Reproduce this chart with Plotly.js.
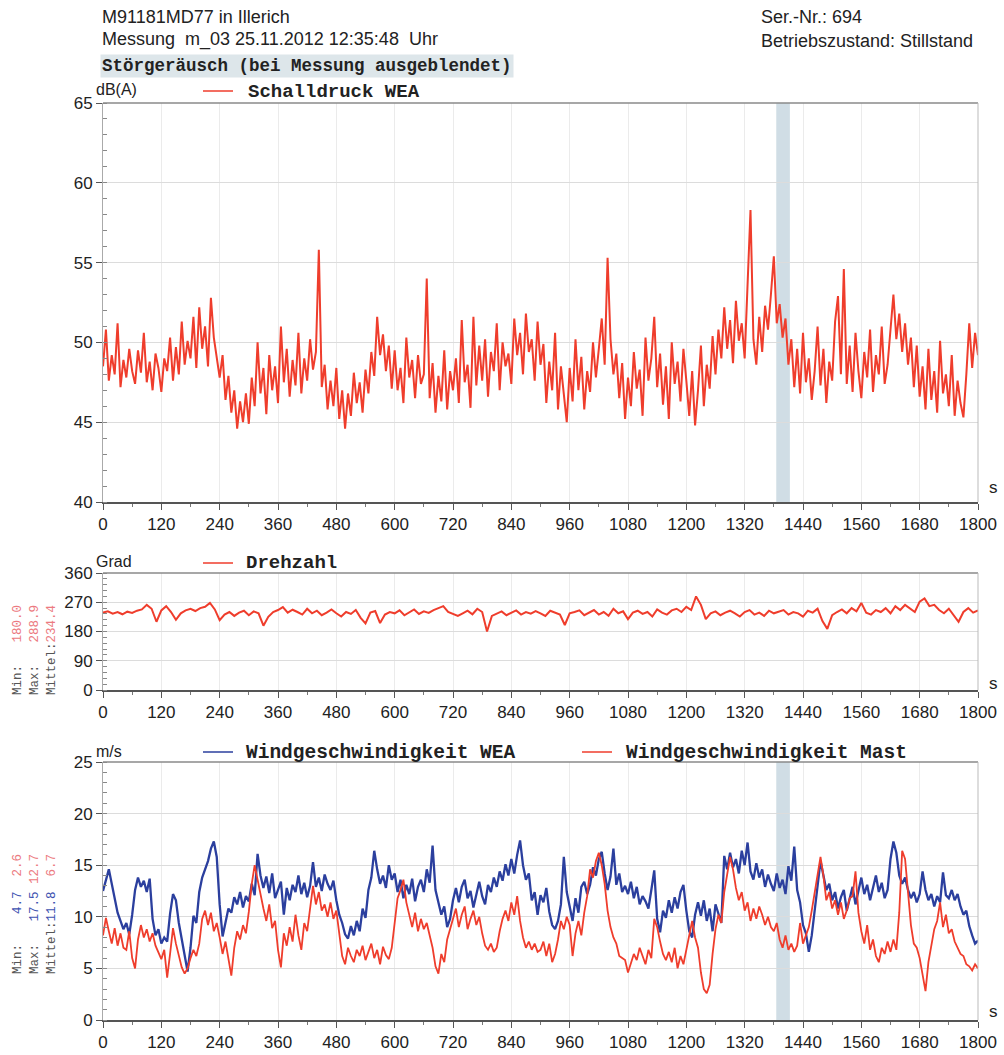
<!DOCTYPE html>
<html><head><meta charset="utf-8">
<script src="https://cdn.plot.ly/plotly-3.0.1.min.js"></script>
<style>html,body{margin:0;padding:0;background:#fff;}#chart{width:1004px;height:1055px;}</style>
</head><body><div id="chart"></div>
<script>
// ---------------- DATA ----------------
const xTicks = [0,120,240,360,480,600,720,840,960,1080,1200,1320,1440,1560,1680,1800];
const xTickLabels = xTicks.map(String);
const stepDb = 6;      // seconds between samples (Schalldruck)
const stepRpm = 10;    // seconds between samples (Drehzahl)
const stepWind = 6;    // seconds between samples (Wind)
const shadeStart = 1385, shadeEnd = 1413;

const schalldruckWEA = [
48.5,50.8,47.6,49.2,48.0,51.2,47.2,48.9,47.8,49.6,
48.2,47.4,49.5,48.1,50.6,47.5,48.8,47.0,49.3,48.4,
46.9,49.0,48.2,50.3,47.6,49.7,48.0,51.3,48.6,50.1,
49.0,51.6,48.4,52.2,49.6,51.0,48.5,52.8,50.3,49.0,
47.8,49.2,46.4,47.9,45.6,47.0,44.6,46.3,45.0,46.8,
44.9,47.8,46.0,50.0,46.8,48.4,45.5,49.2,47.0,48.5,
46.2,51.0,47.5,49.6,46.6,48.9,47.3,50.6,46.8,49.0,
47.6,50.2,48.3,49.4,55.8,47.2,48.6,45.8,47.6,46.0,
48.4,45.2,47.0,44.6,46.8,45.4,48.1,46.2,47.5,45.6,
48.3,46.8,49.4,47.9,51.6,49.2,50.5,48.2,49.8,47.1,
49.5,47.0,48.4,46.2,50.3,47.8,48.9,46.5,49.2,47.4,
48.0,54.0,46.5,48.7,45.6,47.9,46.3,49.5,45.8,48.2,
47.0,49.0,46.2,51.4,47.5,48.6,45.9,51.6,47.3,49.8,
47.6,50.2,46.6,49.4,48.2,51.2,47.0,50.0,48.5,49.3,
47.4,51.5,49.2,50.6,48.0,51.8,49.4,50.2,47.6,51.3,
48.6,49.9,46.2,48.8,47.0,50.6,45.8,48.5,46.6,45.0,
48.4,46.3,50.2,47.0,49.1,45.8,48.2,46.9,50.0,47.8,
49.6,51.5,48.6,55.3,50.2,48.0,49.3,46.5,48.7,45.2,
47.8,46.0,49.4,47.1,48.3,45.4,50.3,47.6,49.0,51.6,
47.2,49.3,46.1,48.5,45.2,50.0,47.4,48.8,46.3,49.6,
47.6,45.4,48.2,44.8,47.0,49.8,46.0,48.6,47.1,50.4,
48.0,50.8,49.0,52.2,49.6,51.4,48.7,52.6,50.1,51.2,
49.0,53.8,58.3,50.2,48.6,51.6,49.4,52.3,50.8,53.0,
55.4,51.2,52.4,50.3,51.5,48.6,50.2,47.2,49.6,46.8,
50.6,47.5,49.0,46.4,48.2,51.0,47.3,49.6,46.2,48.8,
47.6,51.3,52.9,48.0,54.6,47.4,49.8,46.9,50.6,48.2,
46.5,49.4,47.8,50.8,46.9,49.2,48.0,51.0,47.4,48.6,
50.6,53.0,50.2,51.8,49.4,51.2,48.6,50.3,47.2,49.8,
46.6,48.5,45.8,49.6,46.4,48.2,45.6,50.1,46.8,48.0,
46.0,49.2,45.4,47.6,46.2,45.3,48.0,51.2,48.4,50.6,
49.2];

const drehzahl = [
238,242,235,240,233,241,237,244,248,262,
250,210,245,258,240,216,236,245,250,243,
252,256,268,248,215,232,240,228,238,244,
230,242,236,198,225,240,246,255,238,247,
240,232,250,236,244,230,238,248,236,226,
240,234,246,222,205,238,243,206,232,240,
236,245,230,240,248,234,242,237,246,252,
258,240,234,228,236,244,233,250,240,180,
228,236,242,230,238,245,232,240,235,243,
236,228,244,238,232,200,236,240,245,230,
238,246,232,240,228,250,236,242,218,238,
244,234,240,226,248,238,232,245,250,240,
256,246,288,262,218,236,242,230,238,244,
236,226,240,246,232,238,228,244,236,240,
246,232,240,236,226,244,238,250,212,188,
230,240,248,236,252,242,268,238,232,246,
240,252,236,258,246,262,250,240,272,282,
258,262,246,236,250,228,210,240,252,238,
245];

const windWEA = [
12.5,13.6,14.6,13.2,11.8,10.4,9.6,8.8,9.4,8.3,
10.2,12.6,13.8,12.9,13.5,12.4,13.7,9.8,8.2,8.8,
7.4,8.0,7.6,10.3,12.2,11.6,9.4,7.8,6.6,4.7,
7.0,10.1,9.4,12.4,13.8,14.6,15.4,16.6,17.3,15.8,
11.2,8.1,9.6,10.8,10.4,11.9,11.2,12.4,10.9,12.0,
11.5,13.2,12.1,16.1,14.0,12.8,13.9,12.3,14.2,11.8,
12.6,13.4,10.2,12.8,11.6,13.1,12.4,14.0,12.2,13.3,
11.9,13.0,15.3,12.9,13.8,12.5,14.1,13.2,12.6,13.5,
11.6,10.2,9.4,8.3,7.9,9.1,8.2,9.6,8.6,10.8,
9.9,12.6,13.8,16.4,14.6,13.2,14.0,12.8,15.0,13.6,
14.2,12.4,13.6,11.8,13.1,12.2,13.7,11.5,12.9,13.6,
12.4,14.6,13.3,16.9,12.6,11.3,10.2,11.0,9.0,9.8,
11.6,12.8,11.4,12.9,13.6,11.8,12.5,10.9,12.2,13.4,
12.0,11.2,13.1,12.4,13.8,12.9,14.4,13.5,15.1,14.0,
15.6,14.2,16.0,17.4,15.0,13.6,14.2,11.6,12.4,10.2,
12.1,11.4,12.8,10.5,9.2,8.8,9.6,11.2,15.8,12.4,
11.0,9.6,11.8,10.4,12.9,13.4,12.2,13.1,14.8,14.0,
15.6,16.3,14.2,12.6,13.9,16.6,13.1,14.2,12.4,13.0,
12.2,13.4,11.8,12.9,11.2,12.0,11.5,10.8,12.6,14.5,
9.8,8.5,10.6,9.9,11.6,10.4,11.9,10.8,12.4,13.1,
10.6,8.6,8.0,10.2,11.4,10.1,11.6,9.6,10.8,8.6,
11.2,10.2,9.4,15.9,14.6,16.2,14.8,15.6,14.2,16.4,
15.0,17.2,14.4,13.6,15.2,13.8,14.6,12.9,14.1,13.2,
12.5,14.2,12.8,13.6,12.2,14.9,13.5,16.8,12.6,11.4,
9.2,8.4,6.6,8.2,10.6,13.4,15.4,14.0,12.6,13.2,
11.6,12.4,10.8,11.9,12.6,10.6,11.8,12.9,11.2,12.4,
13.8,12.2,13.1,11.6,12.8,14.0,12.4,13.3,11.8,12.6,
15.6,17.3,16.2,14.0,13.2,13.8,12.6,11.8,12.4,11.4,
12.2,14.4,12.6,11.6,12.2,11.0,12.0,11.4,14.3,12.1,
11.8,12.6,11.6,12.2,11.0,10.2,10.6,9.1,8.2,7.4,
7.7];

const windMast = [
8.2,9.9,8.6,7.4,8.9,7.2,8.4,7.0,6.8,8.6,
6.0,5.0,7.8,9.2,8.0,8.8,7.6,8.4,7.2,6.6,
5.9,6.8,4.1,6.4,8.9,7.4,6.2,5.1,4.5,5.0,
6.0,6.8,6.2,7.4,9.8,10.6,9.2,10.4,8.6,9.4,
8.0,6.4,7.6,5.8,4.3,7.0,8.6,7.8,9.2,8.4,
10.5,13.2,15.0,13.6,12.0,10.8,9.6,11.2,8.9,9.6,
6.8,5.1,8.4,7.2,9.0,7.6,10.2,8.2,6.8,9.4,
8.6,11.0,13.0,11.2,12.4,10.6,11.2,10.0,11.4,9.8,
10.6,8.4,6.2,5.4,7.0,6.2,5.6,6.8,6.2,7.2,
5.8,6.6,7.4,6.0,6.8,5.4,7.1,6.3,5.9,7.0,
9.6,11.8,12.6,13.6,11.4,10.2,9.0,10.4,8.6,9.8,
8.8,9.4,8.2,7.0,5.2,4.5,6.4,5.6,7.8,8.8,
9.6,10.8,9.0,10.2,11.0,8.8,9.8,10.6,9.2,10.0,
8.4,7.2,6.8,7.4,6.6,7.0,8.6,9.8,10.6,9.6,
11.4,10.2,12.0,9.6,8.0,7.0,7.6,6.8,7.4,6.6,
6.8,7.6,6.2,7.4,5.6,6.4,7.8,9.6,8.8,10.0,
9.2,6.2,8.4,9.6,8.2,10.4,12.0,14.6,13.8,15.4,
16.2,15.0,13.2,10.6,9.0,8.0,7.4,6.2,6.0,5.8,
4.6,5.4,6.4,5.8,7.0,6.2,5.4,6.8,6.0,9.8,
9.0,7.6,6.4,5.8,6.6,5.6,7.0,5.0,6.2,5.4,
6.8,8.2,9.6,8.0,7.0,4.6,3.0,2.6,3.4,6.4,
8.8,10.2,9.4,12.4,14.2,15.8,14.6,12.8,11.6,12.4,
10.6,11.4,9.6,10.8,9.8,11.0,10.2,9.2,10.0,9.0,
8.6,9.4,7.8,7.0,8.2,6.8,7.4,6.6,7.2,9.4,
7.4,8.2,9.0,10.6,12.2,13.8,15.8,14.0,11.6,12.4,
10.8,11.6,10.2,11.4,9.8,10.6,11.8,12.0,14.4,10.4,
8.6,7.4,9.2,6.8,7.8,6.2,5.6,7.0,6.4,7.6,
6.6,7.8,6.8,10.4,16.4,15.6,12.2,9.2,7.4,7.0,
6.0,4.2,2.8,5.6,7.4,8.8,9.6,11.4,9.0,10.2,
8.4,8.8,7.6,7.0,6.4,6.2,5.4,5.2,4.8,5.4,
5.0];

// ---------------- LAYOUT ----------------
const W = 1004, H = 1055;
const px = v => v / W;
const py = v => 1 - v / H;
const RED = '#ef3d2c', BLUE = '#2b3f9e';
const SANS = 'Liberation Sans, Arial, sans-serif';
const MONO = 'Liberation Mono, Courier New, monospace';

const xDom = [px(103), px(978)];
const dom1 = [py(502), py(103)];
const dom2 = [py(690), py(573)];
const dom3 = [py(1020), py(762)];

function xAxis(anchor) {
  return {
    domain: xDom, anchor: anchor, range: [0, 1800], tickmode: 'array',
    tickvals: xTicks, ticktext: xTickLabels,
    ticks: 'outside', ticklen: 6, tickcolor: '#555',
    minor: {dtick: 60, tick0: 0, ticks: 'outside', ticklen: 3, tickcolor: '#777', showgrid: false},
    showgrid: true, gridcolor: '#ebebeb', gridwidth: 1,
    showline: true, linecolor: '#555', linewidth: 1.5,
    zeroline: false, fixedrange: true,
    tickfont: {family: SANS, size: 17, color: '#222'}
  };
}
function yAxis(domain, range, dtick, minorDtick) {
  return {
    domain: domain, range: range, dtick: dtick, tick0: 0,
    ticks: 'outside', ticklen: 6, tickcolor: '#555',
    minor: {dtick: minorDtick, ticks: 'inside', ticklen: 4, tickcolor: '#888', showgrid: false},
    showgrid: true, gridcolor: '#dcdcdc', gridwidth: 1,
    showline: true, linecolor: '#aaa', linewidth: 1,
    zeroline: false, fixedrange: true,
    tickfont: {family: SANS, size: 17, color: '#222'}
  };
}

const traces = [
  {type: 'scatter', mode: 'lines', x0: 0, dx: stepDb, y: schalldruckWEA, xaxis: 'x', yaxis: 'y',
   line: {color: RED, width: 2}, name: 'Schalldruck WEA', showlegend: false},
  {type: 'scatter', mode: 'lines', x0: 0, dx: stepRpm, y: drehzahl, xaxis: 'x2', yaxis: 'y2',
   line: {color: RED, width: 2}, name: 'Drehzahl', showlegend: false},
  {type: 'scatter', mode: 'lines', x0: 0, dx: stepWind, y: windWEA, xaxis: 'x3', yaxis: 'y3',
   line: {color: BLUE, width: 2.3}, name: 'Windgeschwindigkeit WEA', showlegend: false},
  {type: 'scatter', mode: 'lines', x0: 0, dx: stepWind, y: windMast, xaxis: 'x3', yaxis: 'y3',
   line: {color: RED, width: 1.8}, name: 'Windgeschwindigkeit Mast', showlegend: false}
];

function ann(x, y, text, opts) {
  return Object.assign({xref: 'paper', yref: 'paper', x: px(x), y: py(y), text: text,
    showarrow: false, xanchor: 'left', yanchor: 'middle',
    font: {family: SANS, size: 18, color: '#222'}}, opts || {});
}
const monoBold = (size) => ({family: MONO, size: size, color: '#222', weight: 'bold'});

const annotations = [
  ann(100, 17, 'M91181MD77 in Illerich'),
  ann(100, 40, 'Messung&nbsp; m_03 25.11.2012 12:35:48&nbsp; Uhr'),
  ann(100, 66, 'Störgeräusch (bei Messung ausgeblendet)', {font: monoBold(17.5), bgcolor: '#dde6ea', borderpad: 1}),
  ann(759, 17, 'Ser.-Nr.: 694'),
  ann(759, 41, 'Betriebszustand: Stillstand'),
  ann(94, 90, 'dB(A)', {font: {family: SANS, size: 16, color: '#222'}}),
  ann(246, 92, 'Schalldruck WEA', {font: monoBold(19)}),
  ann(94, 561, 'Grad', {font: {family: SANS, size: 16, color: '#222'}}),
  ann(244, 563, 'Drehzahl', {font: monoBold(19)}),
  ann(94, 751, 'm/s', {font: {family: SANS, size: 16, color: '#222'}}),
  ann(244, 753, 'Windgeschwindigkeit WEA', {font: monoBold(19.5)}),
  ann(624, 753, 'Windgeschwindigkeit Mast', {font: monoBold(19.5)}),
  ann(987, 487, 's', {font: {family: SANS, size: 17, color: '#222'}}),
  ann(987, 683, 's', {font: {family: SANS, size: 17, color: '#222'}}),
  ann(987, 1011, 's', {font: {family: SANS, size: 17, color: '#222'}})
];
// rotated statistics
const pink = '#ec7a80', blueS = '#3d52b0', lab = '#555';
function rot(x, y, text) {
  return {xref: 'paper', yref: 'paper', x: px(x), y: py(y), text: text, showarrow: false,
    textangle: -90, xanchor: 'center', yanchor: 'middle',
    font: {family: MONO, size: 12.5, color: lab}};
}
const c = (col, t) => '<span style="color:' + col + '">' + t + '</span>';
annotations.push(
  rot(18, 650, 'Min:&nbsp;&nbsp;&nbsp;' + c(pink, '180.0')),
  rot(35, 650, 'Max:&nbsp;&nbsp;&nbsp;' + c(pink, '288.9')),
  rot(52, 650, 'Mittel:' + c(pink, '234.4')),
  rot(18, 914, 'Min:&nbsp;&nbsp;&nbsp;&nbsp;' + c(blueS, '4.7') + '&nbsp;&nbsp;' + c(pink, '2.6')),
  rot(35, 914, 'Max:&nbsp;&nbsp;&nbsp;' + c(blueS, '17.5') + '&nbsp;' + c(pink, '12.7')),
  rot(52, 914, 'Mittel:' + c(blueS, '11.8') + '&nbsp;&nbsp;' + c(pink, '6.7'))
);

const shapes = [];
// shaded band (panels 1 and 3)
[['x', 'y domain'], ['x3', 'y3 domain']].forEach(([xr, yr]) => {
  shapes.push({type: 'rect', xref: xr, yref: yr, x0: shadeStart, x1: shadeEnd, y0: 0, y1: 1,
    fillcolor: '#d0dde5', line: {width: 0}, layer: 'below'});
});
// top and right borders
[['x domain', 'y domain'], ['x2 domain', 'y2 domain'], ['x3 domain', 'y3 domain']].forEach(([xr, yr]) => {
  shapes.push({type: 'line', xref: xr, yref: yr, x0: 0, x1: 1, y0: 1, y1: 1, line: {color: '#8a8a8a', width: 1.3}});
  shapes.push({type: 'line', xref: xr, yref: yr, x0: 1, x1: 1, y0: 0, y1: 1, line: {color: '#bbbbbb', width: 1}});
});
// legend line samples
function legLine(x0, x1, y, col) {
  shapes.push({type: 'line', xref: 'paper', yref: 'paper', x0: px(x0), x1: px(x1), y0: py(y), y1: py(y),
    line: {color: col, width: 1.5}});
}
legLine(203, 233, 91, RED);
legLine(203, 233, 563, RED);
legLine(203, 233, 752, BLUE);
legLine(582, 612, 752, RED);

const layout = {
  width: W, height: H, margin: {l: 0, r: 0, t: 0, b: 0},
  paper_bgcolor: '#fff', plot_bgcolor: '#fff', showlegend: false, hovermode: false,
  xaxis: xAxis('y'), xaxis2: xAxis('y2'), xaxis3: xAxis('y3'),
  yaxis: yAxis(dom1, [40, 65], 5, 1),
  yaxis2: yAxis(dom2, [0, 360], 90, 18),
  yaxis3: yAxis(dom3, [0, 25], 5, 1),
  annotations: annotations, shapes: shapes
};
Plotly.newPlot('chart', traces, layout, {staticPlot: true, displayModeBar: false});
</script></body></html>
